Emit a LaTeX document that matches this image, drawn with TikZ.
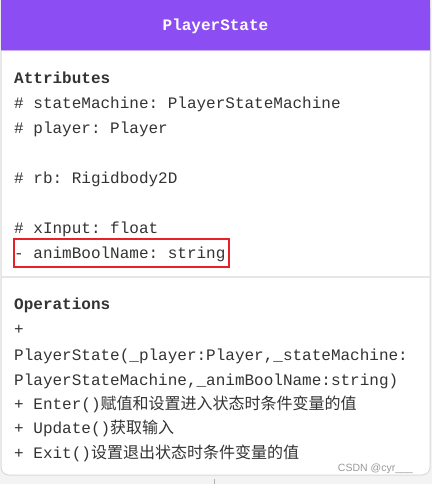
\documentclass[tikz,border=0pt]{standalone}
\usepackage{fontspec}
\setmainfont{Liberation Sans}
\setmonofont{Liberation Mono}
\newfontfamily\cjk{Noto Sans CJK SC}
\definecolor{hdr}{HTML}{8C4DF2}
\definecolor{hdrline}{HTML}{C7AEF7}
\definecolor{txt}{HTML}{333333}
\definecolor{brd}{HTML}{DADADA}
\definecolor{sep}{HTML}{E6E6E6}
\definecolor{bg}{HTML}{F3F3F3}
\definecolor{redbox}{HTML}{E8202A}
\definecolor{wm}{HTML}{9A9A9A}
\tikzset{
  line/.style={anchor=base west, inner sep=0pt, text=txt, font=\ttfamily\fontsize{16}{16}\selectfont},
  bline/.style={line, font=\ttfamily\bfseries\fontsize{16}{16}\selectfont},
}
\begin{document}
\begin{tikzpicture}[x=1pt,y=-1pt]
\useasboundingbox (0,0) rectangle (432,484);
\fill[bg] (0,0) rectangle (432,484);
% box
\path[fill=white, draw=brd, line width=1pt, rounded corners=8pt] (1,-8) rectangle (430,475);
\fill[hdr] (1,51) -- (1,-8) -- (430,-8) -- (430,51) -- cycle;
\begin{scope}
\clip[rounded corners=8pt] (1,0) rectangle (430,475);
\fill[hdr] (0,0) rectangle (432,51);
\draw[hdrline, line width=1pt] (1,51) -- (430,51);
\draw[sep, line width=1.5pt] (1,277) -- (430,277);
\end{scope}
\fill[bg] (0,-10) rectangle (432,0);
\node[anchor=base, inner sep=0pt, text=white, font=\ttfamily\bfseries\fontsize{16}{16}\selectfont] (title) at (215.5,30.5) {PlayerState};
% attributes
\node[bline] (attr) at (14,83.5) {Attributes};
\node[line] (a1) at (14,108.5) {\# stateMachine: PlayerStateMachine};
\node[line] (a2) at (14,133.5) {\# player: Player};
\node[line] (a3) at (14,183) {\# rb: Rigidbody2D};
\node[line] (a4) at (14,233) {\# xInput: float};
\node[line] (a5) at (14,258) {- animBoolName: string};
\draw[redbox, line width=2.4pt] (14,239) rectangle (229,267);
% operations
\node[bline] (ops) at (14,309.5) {Operations};
\node[line] (o1) at (14,334.5) {+};
\node[line] (o2) at (14,360) {PlayerState(\_player:Player,\_stateMachine:};
\node[line] (o3) at (14,385) {PlayerStateMachine,\_animBoolName:string)};
\node[line] (o4) at (14,409.5) {+ Enter()\cjk 赋值和设置进入状态时条件变量的值};
\node[line] (o5) at (14,433.5) {+ Update()\cjk 获取输入};
\node[line] (o6) at (14,458.5) {+ Exit()\cjk 设置退出状态时条件变量的值};
\node[anchor=base east, inner sep=0pt, text=wm, font=\fontsize{10.5}{10.5}\selectfont] (wmark) at (413,471) {CSDN @cyr\_\_\_};
% stub
\coordinate (s1) at (214,479);
\coordinate (s2) at (214,484);
\draw[brd!80!black, line width=1pt] (s1) -- (s2);
\end{tikzpicture}
\end{document}
